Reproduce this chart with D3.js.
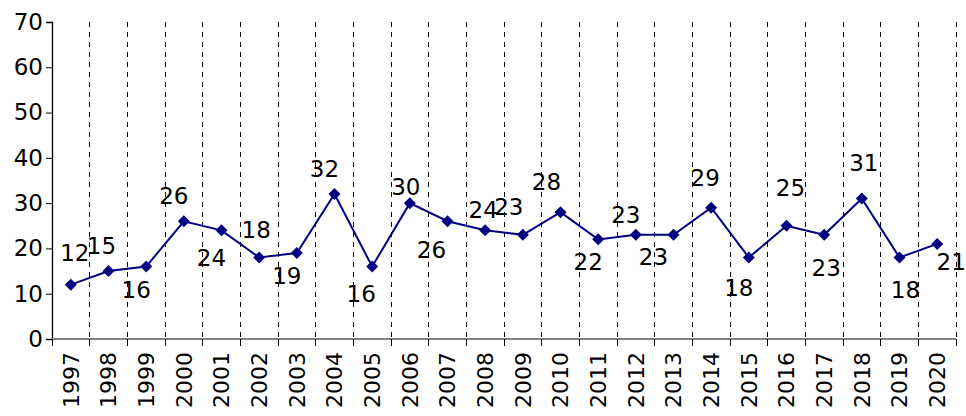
<!DOCTYPE html>
<html>
<head>
<meta charset="utf-8">
<script src="https://cdn.jsdelivr.net/npm/d3@7"></script>
<style>
  html, body { margin: 0; padding: 0; background: #fff; }
  svg text { font-family: "DejaVu Sans", Verdana, sans-serif; fill: #000; }
</style>
</head>
<body>
<div id="chart"></div>
<script>
// years on the category axis
const years = ["1997", "1998", "1999", "2000", "2001", "2002", "2003", "2004", "2005", "2006", "2007", "2008",
  "2009", "2010", "2011", "2012", "2013", "2014", "2015", "2016", "2017", "2018", "2019", "2020"];
// series values
const values = [12, 15, 16, 26, 24, 18, 19, 32, 16, 30, 26, 24, 23, 28, 22, 23, 23, 29, 18, 25, 23, 31, 18, 21];
// y axis ticks
const yTicks = [0, 10, 20, 30, 40, 50, 60, 70];
// where each data label sits relative to its point (dx, dy in px)
const labelOffsets = [[4, -32], [-7, -25], [-10, 23], [-10, -26], [-10, 27], [-3, -28], [-10, 23], [-10, -25],
  [-11, 27], [-4, -16], [-16, 28], [-2, -21], [-14, -28], [-14, -30], [-10, 22], [-10, -20], [-20, 22],
  [-6, -30], [-10, 30], [4, -38], [2, 33], [2, -36], [6, 32], [14, 18]];

const width = 966, height = 416;
const margin = { top: 22, right: 10, bottom: 77, left: 52 };
const innerW = width - margin.left - margin.right;
const innerH = height - margin.top - margin.bottom;
const lineColor = "#000080";

const svg = d3.select("#chart").append("svg")
  .attr("width", width)
  .attr("height", height);

const g = svg.append("g")
  .attr("transform", "translate(" + margin.left + "," + margin.top + ")");

const x = d3.scaleBand()
  .domain(years)
  .range([0, innerW]);

const y = d3.scaleLinear()
  .domain([0, 70])
  .range([innerH, 0]);

// right edge of every category
const bounds = years.map((d) => x(d) + x.bandwidth());

//------- dashed category gridlines -------
g.append("g").attr("class", "grid")
  .selectAll("line")
  .data(bounds)
  .enter().append("line")
  .attr("x1", (d) => d).attr("x2", (d) => d)
  .attr("y1", 0).attr("y2", innerH)
  .attr("stroke", "#000")
  .attr("stroke-width", 1)
  .attr("stroke-dasharray", "5,5")
  .attr("shape-rendering", "crispEdges");

//------- y axis -------
const yAxis = g.append("g")
  .call(d3.axisLeft(y).tickValues(yTicks).tickSize(6).tickPadding(3));
yAxis.select(".domain").attr("stroke", "#000").attr("stroke-width", 1.3);
yAxis.selectAll(".tick line").attr("stroke", "#000");
yAxis.selectAll("text").style("font-size", "23px");

//------- x axis (ticks between categories) -------
const xAxis = g.append("g")
  .attr("transform", "translate(0," + innerH + ")");
xAxis.append("line")
  .attr("x1", 0).attr("x2", innerW)
  .attr("stroke", "#808080").attr("stroke-width", 2);
xAxis.selectAll("line.tick")
  .data([0].concat(bounds))
  .enter().append("line")
  .attr("class", "tick")
  .attr("x1", (d) => d).attr("x2", (d) => d)
  .attr("y1", 0).attr("y2", 7)
  .attr("stroke", "#000")
  .attr("shape-rendering", "crispEdges");
xAxis.selectAll("text")
  .data(years)
  .enter().append("text")
  .attr("transform", (d) => "translate(" + (x(d) + x.bandwidth() / 2) + ",13) rotate(-90)")
  .attr("text-anchor", "end")
  .attr("dy", "0.36em")
  .style("font-size", "22px")
  .text((d) => d);

//------- line + markers -------
const line = d3.line()
  .x((d, i) => x(years[i]) + x.bandwidth() / 2)
  .y((d) => y(d));

g.append("path")
  .datum(values)
  .attr("fill", "none")
  .attr("stroke", lineColor)
  .attr("stroke-width", 2)
  .attr("d", line);

const diamond = d3.symbol().type(d3.symbolSquare).size(72);
g.selectAll("path.marker")
  .data(values)
  .enter().append("path")
  .attr("class", "marker")
  .attr("d", diamond)
  .attr("fill", lineColor)
  .attr("transform", (d, i) => "translate(" + (x(years[i]) + x.bandwidth() / 2) + "," + y(d) + ") rotate(45)");

//------- data labels -------
g.selectAll("text.label")
  .data(values)
  .enter().append("text")
  .attr("class", "label")
  .attr("x", (d, i) => x(years[i]) + x.bandwidth() / 2 + labelOffsets[i][0])
  .attr("y", (d, i) => y(d) + labelOffsets[i][1])
  .attr("text-anchor", "middle")
  .attr("dy", "0.36em")
  .style("font-size", "23px")
  .text((d) => d);
</script>
</body>
</html>
